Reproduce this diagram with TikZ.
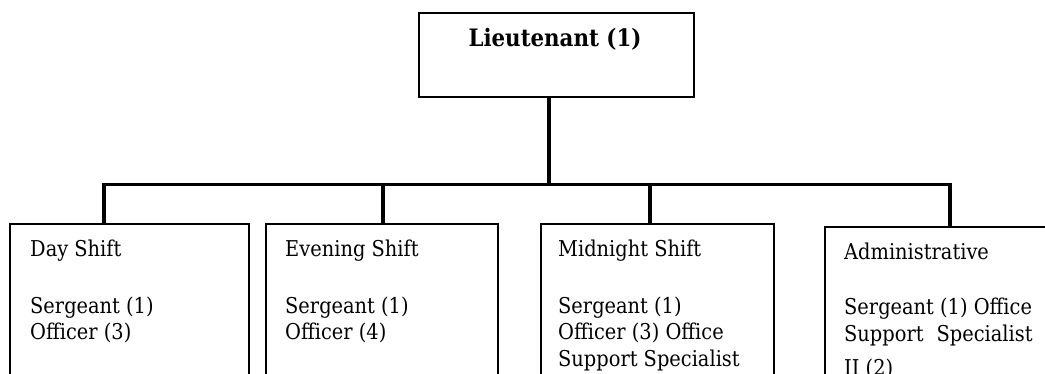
\documentclass[tikz,border=0pt]{standalone}
\usepackage{fontspec}
\setmainfont{DejaVu Serif}[FakeStretch=0.89]
\newcommand{\boxlines}[1]{\begin{tabular}[t]{@{}l@{}}#1\end{tabular}}
\begin{document}
\begin{tikzpicture}[x=1pt,y=1pt,
  box/.style={draw=black, line width=1.8pt, rectangle, inner sep=0pt, anchor=north west},
  link/.style={draw=black, line width=3.4pt},
  txt/.style={inner sep=0pt, anchor=base west,
    font=\fontsize{21.8}{27}\selectfont},
  head/.style={inner sep=0pt, anchor=base,
    font=\fontsize{24}{27}\selectfont\bfseries}]
\useasboundingbox (0,0) rectangle (1045,-374);
\clip (0,0) rectangle (1045,-374);

% top of the chart
\node[box, minimum width=275pt, minimum height=84pt] (lt) at (418,-12) {};
\node[head] (ltt) at (555,-47) {Lieutenant (1)};

% the four units
\node[box, minimum width=239pt, minimum height=200pt] (day) at (9,-223) {};
\node[box, minimum width=232pt, minimum height=200pt] (eve) at (265,-223) {};
\node[box, minimum width=233pt, minimum height=200pt] (mid) at (540,-223) {};
\node[box, minimum width=260pt, minimum height=200pt] (adm) at (824,-226) {};

\node[txt] (dayh) at (30,-257) {Day Shift};
\node[txt] (dayb) at (30,-313) {\boxlines{Sergeant (1)\\Officer (3)}};
\node[txt] (eveh) at (285,-257) {Evening Shift};
\node[txt] (eveb) at (285,-313) {\boxlines{Sergeant (1)\\Officer (4)}};
\node[txt] (midh) at (558,-257) {Midnight Shift};
\node[txt] (midb) at (558,-313) {\boxlines{Sergeant (1)\\Officer (3) Office\\Support Specialist}};
\node[txt] (admh) at (844,-260) {Administrative};
\node[txt] (admb) at (844,-315) {\boxlines{Sergeant (1) Office\\Support\hspace{0.6em}Specialist\\[7pt]II (2)}};

% junctions on the horizontal bar
\coordinate (j1) at (104,-184.5);
\coordinate (j2) at (383,-184.5);
\coordinate (j3) at (650,-184.5);
\coordinate (j4) at (950,-184.5);

% connectors
\draw[link] ([xshift=-7.5pt]lt.south) -- ([xshift=-7.5pt]lt.south |- j1);
\draw[link, line cap=rect] (j1) -- (j4);
\draw[link] (j1) -- (j1 |- day.north);
\draw[link] (j2) -- (j2 |- eve.north);
\draw[link] (j3) -- (j3 |- mid.north);
\draw[link] (j4) -- (j4 |- adm.north);
\end{tikzpicture}
\end{document}
